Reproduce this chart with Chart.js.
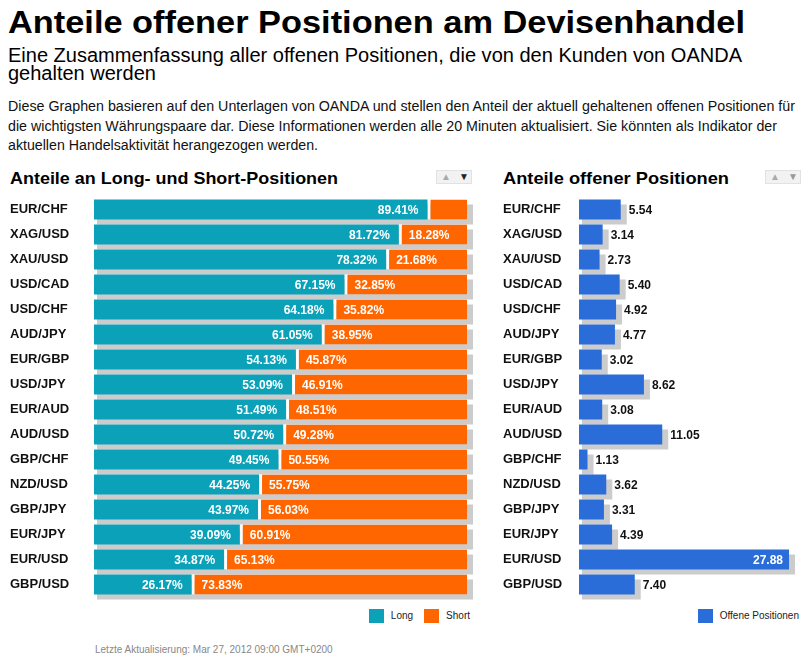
<!DOCTYPE html>
<html>
<head>
<meta charset="utf-8">
<script src="https://cdn.jsdelivr.net/npm/chart.js@4.4.0/dist/chart.umd.min.js"></script>
<style>
  body { margin: 0; background: #fff; width: 810px; height: 664px; position: relative; overflow: hidden;
         font-family: Arial, "Liberation Sans", sans-serif; color: #000; }
  .abs { position: absolute; white-space: nowrap; transform-origin: 0 0; }
  #title { left: 8px; top: 7px; font-size: 31px; line-height: 31px; font-weight: bold; }
  .sub { left: 8px; font-size: 20px; line-height: 18px; }
  .para { left: 8px; font-size: 14px; line-height: 19.5px; color: #111; }
  .head { top: 170px; font-size: 17px; line-height: 17px; font-weight: bold; }
  .btns { top: 170px; width: 36px; height: 14px; background: #f2f2f2; border: 1px solid #e2e2e2; box-sizing: border-box; }
  .btns span { position: absolute; top: 0; width: 18px; height: 13px; font-size: 10px; line-height: 12px; text-align: center; }
  .legend { top: 609px; height: 14px; display: flex; font-size: 10px; line-height: 14px; color: #222; }
  .legend .item { display: flex; margin-left: 11px; }
  .legend .box { width: 15px; height: 14px; margin-right: 7px; }
  #foot { left: 95px; top: 644px; font-size: 10px; line-height: 12px; color: #888; }
  .chartbox { position: absolute; }
</style>
</head>
<body>
<div id="title" class="abs">Anteile offener Positionen am Devisenhandel</div>
<div id="sub1" class="abs sub" style="top:46px">Eine Zusammenfassung aller offenen Positionen, die von den Kunden von OANDA</div>
<div id="sub2" class="abs sub" style="top:64px">gehalten werden</div>
<div id="p1" class="abs para" style="top:97px">Diese Graphen basieren auf den Unterlagen von OANDA und stellen den Anteil der aktuell gehaltenen offenen Positionen für</div>
<div id="p2" class="abs para" style="top:116.5px">die wichtigsten Währungspaare dar. Diese Informationen werden alle 20 Minuten aktualisiert. Sie könnten als Indikator der</div>
<div id="p3" class="abs para" style="top:136px">aktuellen Handelsaktivität herangezogen werden.</div>

<div id="head1" class="abs head" style="left:10px">Anteile an Long- und Short-Positionen</div>
<div class="abs btns" style="left:436px"><span style="left:0;color:#aaa">&#9650;</span><span style="left:18px;color:#222">&#9660;</span></div>
<div id="head2" class="abs head" style="left:503px">Anteile offener Positionen</div>
<div class="abs btns" style="left:765px"><span style="left:0;color:#aaa">&#9650;</span><span style="left:18px;color:#999">&#9660;</span></div>

<div class="chartbox" style="left:0;top:197px;width:480px;height:406px"><canvas id="sideChart"></canvas></div>
<div class="chartbox" style="left:495px;top:197px;width:315px;height:406px"><canvas id="openChart"></canvas></div>

<div id="legend1" class="abs legend"></div>
<div id="legend2" class="abs legend"></div>

<div id="foot" class="abs">Letzte Aktualisierung: Mar 27, 2012 09:00 GMT+0200</div>

<script>
const pairs = ['EUR/CHF', 'XAG/USD', 'XAU/USD', 'USD/CAD', 'USD/CHF', 'AUD/JPY', 'EUR/GBP', 'USD/JPY',
               'EUR/AUD', 'AUD/USD', 'GBP/CHF', 'NZD/USD', 'GBP/JPY', 'EUR/JPY', 'EUR/USD', 'GBP/USD'];
const longPct = [89.41, 81.72, 78.32, 67.15, 64.18, 61.05, 54.13, 53.09, 51.49, 50.72, 49.45, 44.25, 43.97, 39.09, 34.87, 26.17];
const shortPct = [10.59, 18.28, 21.68, 32.85, 35.82, 38.95, 45.87, 46.91, 48.51, 49.28, 50.55, 55.75, 56.03, 60.91, 65.13, 73.83];
const openPos = [5.54, 3.14, 2.73, 5.40, 4.92, 4.77, 3.02, 8.62, 3.08, 11.05, 1.13, 3.62, 3.31, 4.39, 27.88, 7.40];

const TEAL = '#0aa1b9';
const ORANGE = '#ff6600';
const BLUE = '#2a6dd9';
const SHADOW = '#cccccc';

Chart.defaults.font.family = 'Arial, "Liberation Sans", sans-serif';
Chart.defaults.animation = false;

// stretch text to the width it has in the screenshot
function fitWidth(id, w) {
  const el = document.getElementById(id);
  const cur = el.getBoundingClientRect().width;
  el.style.transform = 'scaleX(' + (w / cur) + ')';
}
fitWidth('title', 737);
fitWidth('sub1', 734);
fitWidth('p1', 787);
fitWidth('p2', 769);
fitWidth('p3', 310);
fitWidth('head1', 328);
fitWidth('head2', 226);

// grey drop shadow behind each (stacked) bar
const shadowPlugin = {
  id: 'barShadow',
  beforeDatasetsDraw(chart) {
    const ctx = chart.ctx;
    const n = chart.data.labels.length;
    ctx.save();
    ctx.fillStyle = SHADOW;
    for (let i = 0; i < n; i++) {
      let lo = Infinity, hi = -Infinity, top = 0, h = 0;
      chart.data.datasets.forEach((ds, d) => {
        const el = chart.getDatasetMeta(d).data[i];
        lo = Math.min(lo, el.base, el.x);
        hi = Math.max(hi, el.base, el.x);
        top = el.y - el.height / 2;
        h = el.height;
      });
      ctx.fillRect(lo + 3, top + 5, hi - lo + 3, h);
    }
    ctx.restore();
  }
};

// value labels on the bars
const valuePlugin = {
  id: 'barValues',
  afterDatasetsDraw(chart) {
    const ctx = chart.ctx;
    ctx.save();
    ctx.font = 'bold 12px Arial, "Liberation Sans", sans-serif';
    ctx.textBaseline = 'middle';
    chart.data.datasets.forEach((ds, d) => {
      const meta = chart.getDatasetMeta(d);
      meta.data.forEach((el, i) => {
        const v = ds.data[i];
        const txt = ds.valueFormat(v);
        const tw = ctx.measureText(txt).width;
        const w = Math.abs(el.x - el.base);
        if (ds.labelMode === 'inEnd') {
          if (w < tw + 14) return;
          ctx.fillStyle = '#fff';
          ctx.textAlign = 'right';
          ctx.fillText(txt, el.x - 9, el.y + 1);
        } else if (ds.labelMode === 'inStart') {
          if (w < tw + 14) return;
          ctx.fillStyle = '#fff';
          ctx.textAlign = 'left';
          ctx.fillText(txt, el.base + 10, el.y + 1);
        } else {
          if (el.x + 8 + tw < chart.chartArea.right) {
            ctx.fillStyle = '#111';
            ctx.textAlign = 'left';
            ctx.fillText(txt, el.x + 8, el.y + 1);
          } else {
            ctx.fillStyle = '#fff';
            ctx.textAlign = 'right';
            ctx.fillText(txt, el.x - 6, el.y + 1);
          }
        }
      });
    });
    ctx.restore();
  }
};

function commonOptions(xMax, padLeft, padRight, axisWidth) {
  return {
    indexAxis: 'y',
    responsive: true,
    maintainAspectRatio: false,
    layout: { padding: { left: padLeft, right: padRight, top: 0, bottom: 6 } },
    plugins: { legend: { display: false }, tooltip: { enabled: false } },
    scales: {
      x: { stacked: true, min: 0, max: xMax, display: false },
      y: {
        stacked: true,
        grid: { display: false },
        border: { display: false },
        ticks: { crossAlign: 'far', color: '#111', font: { size: 13, weight: 'bold' }, padding: 0 },
        afterFit(scale) {
          scale.width = axisWidth;
          scale.paddingTop = 0;
          scale.paddingBottom = 0;
        }
      }
    }
  };
}

const sideChart = new Chart(document.getElementById('sideChart'), {
  type: 'bar',
  data: {
    labels: pairs,
    datasets: [
      {
        label: 'Long', data: longPct, backgroundColor: TEAL, borderWidth: 0,
        barPercentage: 0.8, categoryPercentage: 1,
        labelMode: 'inEnd', valueFormat: v => v.toFixed(2) + '%'
      },
      {
        label: 'Short', data: shortPct, backgroundColor: ORANGE, borderColor: '#fff',
        borderWidth: { left: 3, right: 0, top: 0, bottom: 0 }, borderSkipped: false,
        barPercentage: 0.8, categoryPercentage: 1,
        labelMode: 'inStart', valueFormat: v => v.toFixed(2) + '%'
      }
    ]
  },
  options: commonOptions(100, 10, 13, 84),
  plugins: [shadowPlugin, valuePlugin]
});

const openChart = new Chart(document.getElementById('openChart'), {
  type: 'bar',
  data: {
    labels: pairs,
    datasets: [
      {
        label: 'Offene Positionen', data: openPos, backgroundColor: BLUE, borderWidth: 0,
        barPercentage: 0.8, categoryPercentage: 1,
        labelMode: 'outside', valueFormat: v => v.toFixed(2)
      }
    ]
  },
  options: commonOptions(30, 8, 5, 76),
  plugins: [shadowPlugin, valuePlugin]
});

// html legend built from the chart's own legend items
function buildLegend(chart, id, right) {
  const box = document.getElementById(id);
  const items = Chart.defaults.plugins.legend.labels.generateLabels(chart);
  items.forEach(it => {
    const item = document.createElement('div');
    item.className = 'item';
    const sw = document.createElement('div');
    sw.className = 'box';
    sw.style.background = it.fillStyle;
    const tx = document.createElement('div');
    tx.textContent = it.text;
    item.appendChild(sw);
    item.appendChild(tx);
    box.appendChild(item);
  });
  box.style.left = (right - box.getBoundingClientRect().width) + 'px';
}
buildLegend(sideChart, 'legend1', 470);
buildLegend(openChart, 'legend2', 799);
</script>
</body>
</html>
